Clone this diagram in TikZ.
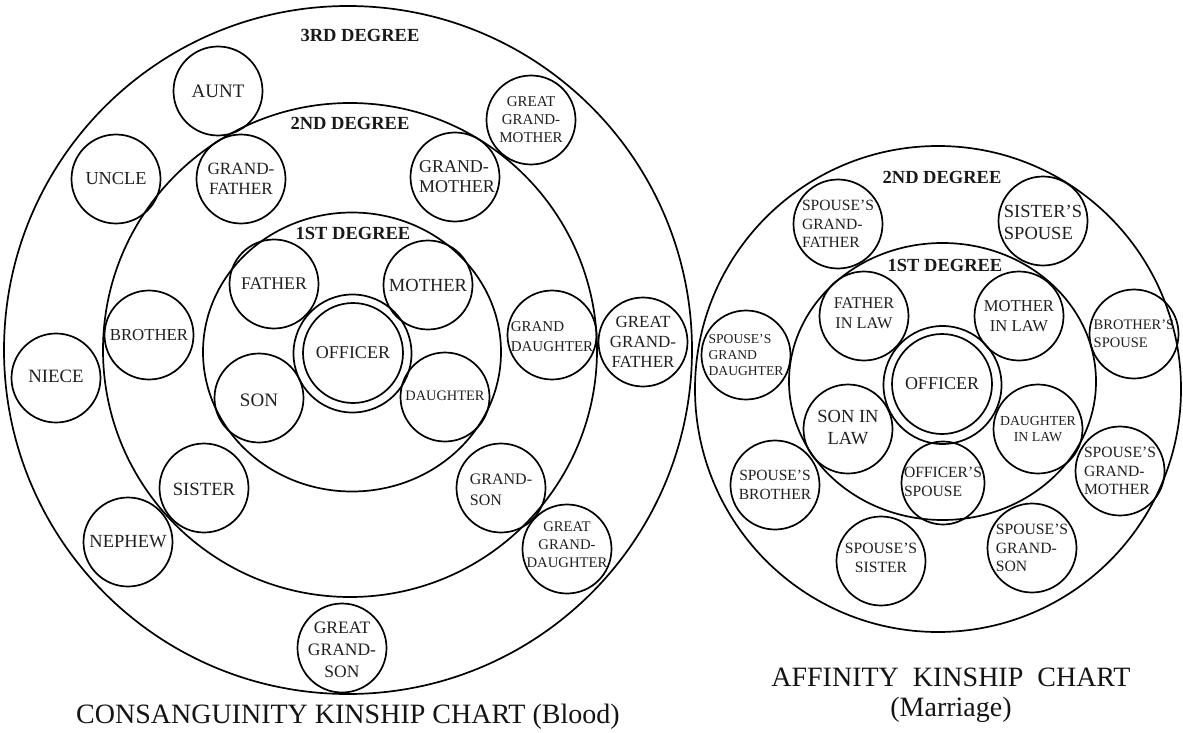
\documentclass[tikz,border=0pt]{standalone}
\usepackage{fontspec}
\setmainfont{Liberation Serif}
\usetikzlibrary{shapes.geometric}
\begin{document}
\begin{tikzpicture}[x=1pt,y=-1pt,
  bigring/.style={circle, draw, line width=1.7pt, inner sep=0pt},
  bigell/.style={ellipse, draw, line width=1.7pt, inner sep=0pt},
  ring/.style={circle, draw, line width=1.7pt, inner sep=0pt, minimum size=89pt},
  fsz/.style 2 args={font=\fontsize{#1pt}{#2pt}\selectfont},
  txt/.style={inner sep=0pt, align=center, text=black!88},
  txl/.style={inner sep=0pt, align=left, text=black!88},
  deg/.style={inner sep=0pt, font=\bfseries\fontsize{18.5pt}{20pt}\selectfont, text=black!90},
  title/.style={inner sep=0pt, align=center, font=\fontsize{28pt}{30pt}\selectfont, text=black!92}
]
\useasboundingbox (0,0) rectangle (1183,733);

% ---------------- Consanguinity chart ----------------
\node[bigring, minimum size=688pt] (c3) at (348,350) {};
\node[bigring, minimum size=494pt] (c2) at (350,350) {};
\node[bigell, minimum width=298pt, minimum height=279pt] (c1) at (352,352) {};
\node[ring, minimum size=118pt] (offo) at (352.5,353.5) {};
\node[ring, minimum size=100pt] (offi) at (353,353) {};
\node[txt, fsz={18}{20}] (offt) at (offi) {OFFICER};

\node[deg] (d3) at (360,35) {3RD DEGREE};
\node[deg] (d2) at (350,123) {2ND DEGREE};
\node[deg] (d1) at (353,233) {1ST DEGREE};

\node[ring] (aunt) at (218,91) {};
\node[txt, fsz={19}{21}] (auntt) at (aunt) {AUNT};
\node[ring] (ggm) at (531,120) {};
\node[txt, fsz={15}{18}] (ggmt) at (ggm) {GREAT\\GRAND-\\MOTHER};
\node[ring] (uncle) at (116,179) {};
\node[txt, fsz={18.3}{20}] (unclet) at (uncle) {UNCLE};
\node[ring] (gf) at (241,179) {};
\node[txt, fsz={17.2}{20}] (gft) at (gf) {GRAND-\\FATHER};
\node[ring] (gm) at (455,177) {};
\node[txl, fsz={18}{20}] (gmt) at (457,177) {GRAND-\\MOTHER};
\node[ring] (father) at (274,284) {};
\node[txt, fsz={17.8}{20}] (fathert) at (father) {FATHER};
\node[ring] (mother) at (428,285) {};
\node[txt, fsz={18.5}{20}] (mothert) at (mother) {MOTHER};
\node[ring] (brother) at (149,335) {};
\node[txt, fsz={16.8}{20}] (brothert) at (brother) {BROTHER};
\node[ring] (gd) at (552,335) {};
\node[txl, fsz={15}{20}] (gdt) at (552,337) {GRAND\\DAUGHTER};
\node[ring] (ggf) at (643,342) {};
\node[txt, fsz={17}{20}] (ggft) at (ggf) {GREAT\\GRAND-\\FATHER};
\node[ring] (niece) at (56,378) {};
\node[txt, fsz={18.8}{20}] (niecet) at (56,376) {NIECE};
\node[ring] (son) at (259,398) {};
\node[txt, fsz={19}{20}] (sont) at (259,400) {SON};
\node[ring] (daughter) at (445,397) {};
\node[txt, fsz={14.4}{18}] (daughtert) at (445,396) {DAUGHTER};
\node[ring] (sister) at (204,488) {};
\node[txt, fsz={18.7}{20}] (sistert) at (204,489) {SISTER};
\node[ring] (gs) at (501,488) {};
\node[txl, fsz={16}{21.5}] (gst) at (501,490) {GRAND-\\SON};
\node[ring] (nephew) at (128,542) {};
\node[txt, fsz={18.5}{20}] (nephewt) at (nephew) {NEPHEW};
\node[ring] (ggd) at (567,549) {};
\node[txt, fsz={14.7}{18}] (ggdt) at (567,545) {GREAT\\GRAND-\\DAUGHTER};
\node[ring] (ggs) at (342,648) {};
\node[txt, fsz={17.5}{22}] (ggst) at (342,650) {GREAT\\GRAND-\\SON};

\node[title] (tl) at (348,717) {CONSANGUINITY KINSHIP CHART (Blood)};

% ---------------- Affinity chart ----------------
\node[bigring, minimum size=486pt] (r2) at (938,389) {};
\node[bigell, minimum width=307pt, minimum height=277pt] (r1) at (942.5,381.5) {};
\node[ring, minimum size=118pt] (roffo) at (942.5,385) {};
\node[ring, minimum size=100pt] (roffi) at (942,384) {};
\node[txt, fsz={18}{20}] (rofft) at (roffi) {OFFICER};

\node[deg] (rd2) at (942,177) {2ND DEGREE};
\node[deg] (rd1) at (945,265) {1ST DEGREE};

\node[ring] (sgf) at (838,224) {};
\node[txl, fsz={15.6}{18.5}] (sgft) at (838,224) {SPOUSE'S\\GRAND-\\FATHER};
\node[ring] (sissp) at (1043,221) {};
\node[txl, fsz={18.5}{22}] (sisspt) at (1043,222) {SISTER'S\\SPOUSE};
\node[ring] (fil) at (864,316) {};
\node[txt, fsz={16.3}{20}] (filt) at (864,313) {FATHER\\IN LAW};
\node[ring] (mil) at (1019,316) {};
\node[txt, fsz={16.6}{20}] (milt) at (1019,316) {MOTHER\\IN LAW};
\node[ring] (brsp) at (1134,334) {};
\node[txl, fsz={14.5}{18}] (brspt) at (1134,334) {BROTHER'S\\SPOUSE};
\node[ring] (sgd) at (746,355) {};
\node[txl, fsz={13.6}{16}] (sgdt) at (746,355) {SPOUSE'S\\GRAND\\DAUGHTER};
\node[ring] (sil) at (848,429) {};
\node[txt, fsz={18.5}{22}] (silt) at (848,428) {SON IN\\LAW};
\node[ring] (dil) at (1038,429) {};
\node[txt, fsz={13.8}{16}] (dilt) at (1038,429) {DAUGHTER\\IN LAW};
\node[ring, minimum size=83pt] (osp) at (943,483) {};
\node[txl, fsz={15.6}{19}] (ospt) at (943,482) {OFFICER'S\\SPOUSE};
\node[ring] (sgm) at (1120,471) {};
\node[txl, fsz={15.6}{18.5}] (sgmt) at (1120,471) {SPOUSE'S\\GRAND-\\MOTHER};
\node[ring] (sbr) at (775,485) {};
\node[txt, fsz={15.5}{18.5}] (sbrt) at (775,485) {SPOUSE'S\\BROTHER};
\node[ring] (ssis) at (881,561) {};
\node[txt, fsz={15.7}{19}] (ssist) at (881,558) {SPOUSE'S\\SISTER};
\node[ring] (sgs) at (1032,548) {};
\node[txl, fsz={15.7}{18.5}] (sgst) at (1032,548) {SPOUSE'S\\GRAND-\\SON};

\node[title] (tr) at (951,695) {AFFINITY\ \ KINSHIP\ \ CHART\\(Marriage)};
\end{tikzpicture}
\end{document}
